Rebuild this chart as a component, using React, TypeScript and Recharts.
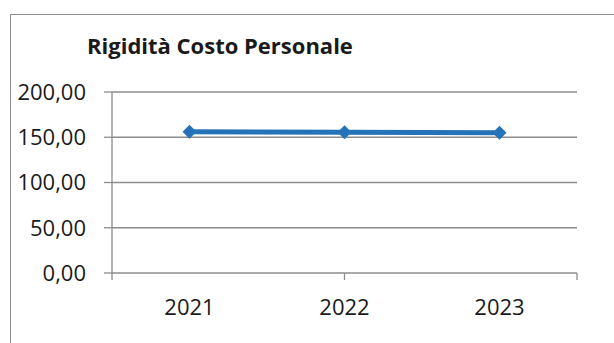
import { LineChart, Line, XAxis, YAxis, CartesianGrid } from 'recharts';

const years = ['2021', '2022', '2023'];
const rigidita = [156, 155.6, 155];
const yTicks = [0, 50, 100, 150, 200];
// category boundaries, where the x-axis tick marks sit
const catEdges = [0, 1, 2, 3];

const data = years.map((year, i) => ({ year, value: rigidita[i] }));

const AXIS = '#8c8c8c';
const BLUE = '#2473b8';
const FONT = '"Open Sans", sans-serif';

const fmt = (v: number) => v.toFixed(2).replace('.', ',');

const Diamond = (props: any) => {
  const { cx, cy } = props;
  if (cx == null || cy == null) return null;
  const r = 7;
  return <path d={`M${cx},${cy - r}L${cx + r},${cy}L${cx},${cy + r}L${cx - r},${cy}Z`} fill={BLUE} />;
};

export default function App() {
  return (
    <div style={{ position: 'absolute', left: 0, top: 0, width: 614, height: 343, background: '#fff', fontFamily: FONT }}>
      <div style={{ position: 'absolute', left: 10, top: 14, right: 0, bottom: 0, borderLeft: `1px solid ${AXIS}`, borderTop: `1px solid ${AXIS}` }} />
      <div style={{ position: 'absolute', left: 87, top: 30, fontSize: 22, fontWeight: 700, color: '#1a1a1a', whiteSpace: 'nowrap' }}>
        Rigidità Costo Personale
      </div>
      <LineChart width={614} height={343} data={data} margin={{ top: 92, right: 37, left: 12, bottom: 19 }}>
        <CartesianGrid vertical={false} stroke={AXIS} strokeWidth={1.3} xAxisId="b_cat" />
        <XAxis
          xAxisId="a_edges"
          type="number"
          domain={[0, 3]}
          ticks={catEdges}
          allowDataOverflow
          height={1}
          axisLine={false}
          tickLine={{ stroke: AXIS, strokeWidth: 1.3 }}
          tickSize={7}
          tickFormatter={() => ''}
        />
        <XAxis
          xAxisId="b_cat"
          dataKey="year"
          scale="band"
          height={50}
          axisLine={false}
          tickLine={false}
          tickSize={0}
          tickMargin={25}
          tick={{ fill: '#1a1a1a', fontSize: 22, fontFamily: FONT }}
        />
        <YAxis
          width={100}
          domain={[0, 200]}
          ticks={yTicks}
          tickFormatter={fmt}
          axisLine={{ stroke: AXIS, strokeWidth: 1.3 }}
          tickLine={{ stroke: AXIS, strokeWidth: 1.3 }}
          tickSize={8}
          tickMargin={18}
          tick={{ fill: '#1a1a1a', fontSize: 22, fontFamily: FONT }}
        />
        <Line
          xAxisId="b_cat"
          dataKey="value"
          stroke={BLUE}
          strokeWidth={5}
          dot={<Diamond />}
          activeDot={false}
          isAnimationActive={false}
        />
      </LineChart>
    </div>
  );
}
